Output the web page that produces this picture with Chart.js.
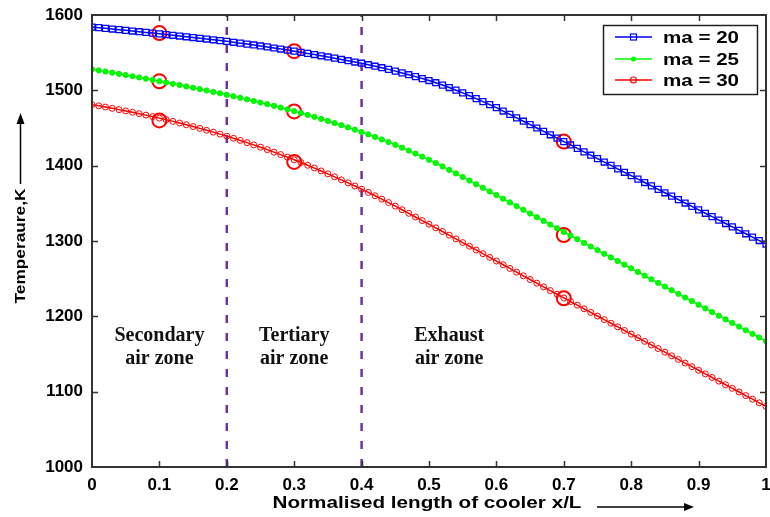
<!DOCTYPE html>
<html>
<head>
<meta charset="utf-8">
<script src="https://cdn.jsdelivr.net/npm/chart.js@4.4.0/dist/chart.umd.min.js"></script>
<style>
  html, body { margin: 0; padding: 0; background: #fff; }
  #wrap { width: 770px; height: 517px; }
</style>
</head>
<body>
<div id="wrap"><canvas id="c" width="770" height="517"></canvas></div>
<script>
// normalised length x/L
const xPos = [0, 0.01, 0.02, 0.03, 0.04, 0.05, 0.06, 0.07, 0.08, 0.09,
  0.1, 0.11, 0.12, 0.13, 0.14, 0.15, 0.16, 0.17, 0.18, 0.19,
  0.2, 0.21, 0.22, 0.23, 0.24, 0.25, 0.26, 0.27, 0.28, 0.29,
  0.3, 0.31, 0.32, 0.33, 0.34, 0.35, 0.36, 0.37, 0.38, 0.39,
  0.4, 0.41, 0.42, 0.43, 0.44, 0.45, 0.46, 0.47, 0.48, 0.49,
  0.5, 0.51, 0.52, 0.53, 0.54, 0.55, 0.56, 0.57, 0.58, 0.59,
  0.6, 0.61, 0.62, 0.63, 0.64, 0.65, 0.66, 0.67, 0.68, 0.69,
  0.7, 0.71, 0.72, 0.73, 0.74, 0.75, 0.76, 0.77, 0.78, 0.79,
  0.8, 0.81, 0.82, 0.83, 0.84, 0.85, 0.86, 0.87, 0.88, 0.89,
  0.9, 0.91, 0.92, 0.93, 0.94, 0.95, 0.96, 0.97, 0.98, 0.99, 1];

// temperature, K
const tempMa20 = [1584.0, 1583.2, 1582.3, 1581.4, 1580.5, 1579.6, 1578.7, 1577.8, 1576.9, 1576.0,
  1575.0, 1574.1, 1573.1, 1572.1, 1571.1, 1570.1, 1569.1, 1568.1, 1567.1, 1566.0,
  1565.0, 1563.8, 1562.6, 1561.4, 1560.2, 1558.9, 1557.6, 1556.2, 1554.8, 1553.4,
  1552.0, 1550.5, 1549.0, 1547.5, 1545.9, 1544.3, 1542.7, 1541.0, 1539.3, 1537.6,
  1536.0, 1534.0, 1532.0, 1530.0, 1527.8, 1525.5, 1523.1, 1520.7, 1518.2, 1515.6,
  1513.0, 1510.1, 1507.0, 1503.7, 1500.2, 1496.6, 1492.9, 1489.0, 1485.0, 1481.0,
  1477.0, 1472.5, 1468.0, 1463.5, 1459.0, 1454.5, 1450.0, 1445.5, 1441.0, 1436.5,
  1432.0, 1427.5, 1423.0, 1418.4, 1413.9, 1409.4, 1404.8, 1400.3, 1395.8, 1391.2,
  1386.7, 1382.2, 1377.6, 1373.1, 1368.6, 1364.0, 1359.5, 1355.0, 1350.4, 1345.9,
  1341.4, 1336.8, 1332.3, 1327.8, 1323.2, 1318.7, 1314.2, 1309.6, 1305.1, 1300.6, 1296.0];

const tempMa25 = [1528.0, 1526.5, 1525.0, 1523.5, 1521.9, 1520.3, 1518.7, 1517.1, 1515.5, 1513.8,
  1512.1, 1510.4, 1508.7, 1507.0, 1505.2, 1503.4, 1501.6, 1499.8, 1497.9, 1496.0,
  1494.1, 1492.1, 1490.1, 1488.0, 1485.9, 1483.8, 1481.6, 1479.4, 1477.1, 1474.8,
  1472.4, 1469.9, 1467.4, 1464.8, 1462.1, 1459.4, 1456.6, 1453.7, 1450.8, 1447.8,
  1444.7, 1441.5, 1438.2, 1434.8, 1431.3, 1427.7, 1423.9, 1420.0, 1416.0, 1412.0,
  1407.9, 1403.5, 1399.0, 1394.4, 1389.7, 1385.0, 1380.2, 1375.4, 1370.6, 1365.8,
  1361.0, 1356.1, 1351.2, 1346.3, 1341.4, 1336.5, 1331.6, 1326.7, 1321.8, 1316.9,
  1312.0, 1307.2, 1302.4, 1297.5, 1292.7, 1287.9, 1283.0, 1278.2, 1273.4, 1268.5,
  1263.7, 1258.9, 1254.0, 1249.2, 1244.4, 1239.5, 1234.7, 1229.9, 1225.0, 1220.2,
  1215.4, 1210.5, 1205.7, 1200.9, 1196.0, 1191.2, 1186.4, 1181.5, 1176.7, 1171.9, 1167.0];

const tempMa30 = [1481.0, 1479.4, 1477.8, 1476.1, 1474.4, 1472.7, 1470.9, 1469.0, 1467.1, 1465.1,
  1463.1, 1461.0, 1458.8, 1456.6, 1454.3, 1451.9, 1449.5, 1447.0, 1444.5, 1441.9,
  1439.2, 1436.4, 1433.5, 1430.6, 1427.6, 1424.5, 1421.3, 1418.0, 1414.7, 1411.3,
  1407.8, 1404.2, 1400.5, 1396.8, 1393.0, 1389.1, 1385.2, 1381.2, 1377.1, 1373.0,
  1368.8, 1364.5, 1360.1, 1355.6, 1351.0, 1346.3, 1341.5, 1336.7, 1331.9, 1327.1,
  1322.3, 1317.5, 1312.6, 1307.7, 1302.8, 1297.9, 1293.0, 1288.1, 1283.2, 1278.3,
  1273.4, 1268.5, 1263.6, 1258.7, 1253.8, 1248.9, 1244.0, 1239.1, 1234.2, 1229.3,
  1224.4, 1219.6, 1214.8, 1210.0, 1205.2, 1200.4, 1195.6, 1190.8, 1186.0, 1181.2,
  1176.4, 1171.6, 1166.8, 1162.0, 1157.2, 1152.4, 1147.6, 1142.8, 1138.0, 1133.2,
  1128.4, 1123.6, 1118.8, 1114.0, 1109.2, 1104.4, 1099.6, 1094.8, 1090.0, 1085.2, 1080.4];

// red ring markers
const markX = [0.1, 0.3, 0.7];
const markMa20 = [1576, 1552, 1432];
const markMa25 = [1512, 1472, 1308];
const markMa30 = [1460, 1405, 1224];

// zone boundaries and names
const zoneBounds = [0.2, 0.4];
const zoneNames = [['Secondary', 'air zone'], ['Tertiary', 'air zone'], ['Exhaust', 'air zone']];
const zoneCenters = [0.1, 0.3, 0.53];

const seriesLabels = ['ma = 20', 'ma = 25', 'ma = 30'];
const yMin = 1000, yMax = 1600, yStep = 100;
const xMin = 0, xMax = 1, xStep = 0.1;

const pts = (xs, ys) => xs.map((x, i) => ({ x: x, y: ys[i] }));

const datasets = [
  { label: seriesLabels[0], data: pts(xPos, tempMa20), borderColor: '#0000ff', borderWidth: 1.5,
    pointStyle: 'rect', pointRadius: 4.2, pointBorderWidth: 1.3, pointBorderColor: '#0000ff',
    pointBackgroundColor: 'rgba(0,0,0,0)' },
  { label: seriesLabels[1], data: pts(xPos, tempMa25), borderColor: '#00ff00', borderWidth: 1.5,
    pointStyle: 'circle', pointRadius: 2.6, pointBorderWidth: 1, pointBorderColor: '#00ee00',
    pointBackgroundColor: '#00ff00' },
  { label: seriesLabels[2], data: pts(xPos, tempMa30), borderColor: '#ff0000', borderWidth: 1.5,
    pointStyle: 'circle', pointRadius: 3, pointBorderWidth: 1, pointBorderColor: '#ff0000',
    pointBackgroundColor: 'rgba(0,0,0,0)' }
];
[markMa20, markMa25, markMa30].forEach(m => {
  datasets.push({ label: 'ring', data: pts(markX, m), showLine: false, pointStyle: 'circle',
    pointRadius: 7, pointBorderWidth: 2, pointBorderColor: '#ff0000',
    pointBackgroundColor: 'rgba(0,0,0,0)' });
});
zoneBounds.forEach(b => {
  datasets.push({ label: 'zone', data: [{ x: b, y: yMin }, { x: b, y: yMax }], borderColor: '#7030a0',
    borderWidth: 2.5, borderDash: [8, 10], pointRadius: 0, order: 5 });
});

const frame = {
  id: 'frame',
  afterDraw(chart) {
    const ctx = chart.ctx, a = chart.chartArea;
    const xs = chart.scales.x, ys = chart.scales.y;
    ctx.save();
    // box and inward ticks
    ctx.strokeStyle = '#333';
    ctx.lineWidth = 2;
    ctx.strokeRect(a.left, a.top, a.right - a.left, a.bottom - a.top);
    ctx.lineWidth = 1.5;
    ctx.beginPath();
    for (let v = xMin + xStep; v < xMax - 1e-9; v += xStep) {
      const px = Math.round(xs.getPixelForValue(v)) + 0.5;
      ctx.moveTo(px, a.bottom); ctx.lineTo(px, a.bottom - 6);
      ctx.moveTo(px, a.top); ctx.lineTo(px, a.top + 6);
    }
    for (let v = yMin + yStep; v < yMax; v += yStep) {
      const py = Math.round(ys.getPixelForValue(v)) + 0.5;
      ctx.moveTo(a.left, py); ctx.lineTo(a.left + 6, py);
      ctx.moveTo(a.right, py); ctx.lineTo(a.right - 6, py);
    }
    ctx.stroke();

    // zone names
    ctx.fillStyle = '#111';
    ctx.font = 'bold 20px "Liberation Serif", "Times New Roman", serif';
    ctx.textAlign = 'center';
    ctx.textBaseline = 'middle';
    zoneNames.forEach((lines, i) => {
      const cx = xs.getPixelForValue(zoneCenters[i]);
      ctx.fillText(lines[0], cx, 336);
      ctx.fillText(lines[1], cx, 359);
    });

    // axis titles with arrows
    ctx.fillStyle = '#000';
    ctx.strokeStyle = '#000';
    ctx.lineWidth = 1.5;
    ctx.font = 'bold 16px "Liberation Sans", Arial, sans-serif';
    const xt = 'Normalised length of cooler x/L';
    ctx.save();
    ctx.translate(427, 504);
    ctx.scale(309 / ctx.measureText(xt).width, 1);
    ctx.fillText(xt, 0, 0);
    ctx.restore();
    ctx.beginPath(); ctx.moveTo(597, 507); ctx.lineTo(686, 507); ctx.stroke();
    ctx.beginPath(); ctx.moveTo(694, 507); ctx.lineTo(684, 503); ctx.lineTo(684, 511); ctx.closePath(); ctx.fill();

    const yt = 'Temperaure,K';
    ctx.font = 'bold 14px "Liberation Sans", Arial, sans-serif';
    ctx.save();
    ctx.translate(21, 246);
    ctx.rotate(-Math.PI / 2);
    ctx.scale(115 / ctx.measureText(yt).width, 1);
    ctx.fillText(yt, 0, 0);
    ctx.restore();
    ctx.beginPath(); ctx.moveTo(20.5, 184); ctx.lineTo(20.5, 122); ctx.stroke();
    ctx.beginPath(); ctx.moveTo(20.5, 113); ctx.lineTo(16.5, 124); ctx.lineTo(24.5, 124); ctx.closePath(); ctx.fill();

    // legend
    const lx = 603, ly = 25, lw = 154, lh = 69;
    ctx.fillStyle = '#fff';
    ctx.fillRect(lx, ly, lw, lh);
    ctx.strokeStyle = '#222';
    ctx.lineWidth = 1.5;
    ctx.strokeRect(lx + 0.5, ly + 0.5, lw, lh);
    const rows = [37, 59, 80];
    const cols = ['#0000ff', '#00ff00', '#ff0000'];
    ctx.font = 'bold 17px "Liberation Sans", Arial, sans-serif';
    ctx.textAlign = 'left';
    rows.forEach((ry, i) => {
      ctx.strokeStyle = cols[i];
      ctx.lineWidth = 1.5;
      ctx.beginPath(); ctx.moveTo(615, ry); ctx.lineTo(652, ry); ctx.stroke();
      ctx.lineWidth = 1.2;
      if (i === 0) ctx.strokeRect(630.5, ry - 3, 6, 6);
      if (i === 1) { ctx.fillStyle = cols[1]; ctx.beginPath(); ctx.arc(633.5, ry, 2.6, 0, Math.PI * 2); ctx.fill(); }
      if (i === 2) { ctx.beginPath(); ctx.arc(633.5, ry, 3, 0, Math.PI * 2); ctx.stroke(); }
      ctx.fillStyle = '#000';
      ctx.save();
      ctx.translate(663, ry + 1);
      ctx.scale(76 / ctx.measureText(seriesLabels[i]).width, 1);
      ctx.fillText(seriesLabels[i], 0, 0);
      ctx.restore();
    });
    ctx.restore();
  }
};

Chart.defaults.font.family = '"Liberation Sans", Arial, sans-serif';

new Chart(document.getElementById('c'), {
  type: 'line',
  data: { datasets: datasets },
  options: {
    responsive: false,
    devicePixelRatio: 1,
    animation: false,
    layout: { autoPadding: false, padding: { left: 0, right: 4, top: 15, bottom: 0 } },
    plugins: { legend: { display: false }, tooltip: { enabled: false } },
    scales: {
      x: {
        type: 'linear', min: xMin, max: xMax,
        grid: { display: false, drawTicks: false },
        border: { display: false },
        ticks: { stepSize: xStep, padding: 8, color: '#000', font: { size: 17, weight: 'bold' },
          maxRotation: 0, autoSkip: false,
          callback: v => String(Number(v.toFixed(1))) },
        afterFit: s => { s.height = 50; s.paddingLeft = 0; s.paddingRight = 0; }
      },
      y: {
        min: yMin, max: yMax,
        grid: { display: false, drawTicks: false },
        border: { display: false },
        ticks: { stepSize: yStep, padding: 9, color: '#000', font: { size: 17, weight: 'bold' },
          callback: v => String(v) },
        afterFit: s => { s.width = 92; s.paddingTop = 0; s.paddingBottom = 0; }
      }
    }
  },
  plugins: [frame]
});
</script>
</body>
</html>
